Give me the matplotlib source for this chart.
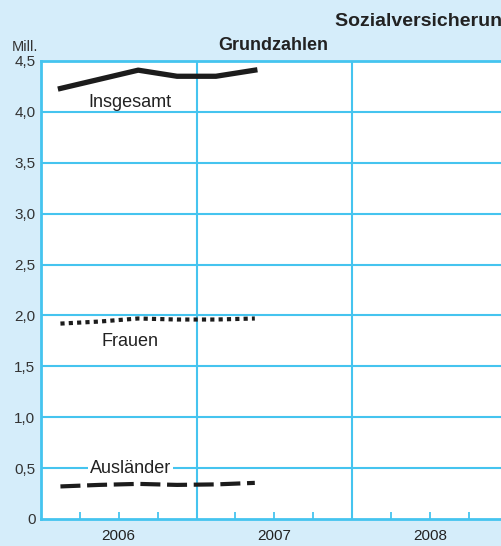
import matplotlib
matplotlib.use("Agg")
import matplotlib.pyplot as plt
import matplotlib.transforms as mtransforms

plt.rcParams['font.family'] = ['Liberation Sans', 'DejaVu Sans']

# quarters Q1 2006 .. Q2 2007 (quarter midpoints)
quarters = [2006.125, 2006.375, 2006.625, 2006.875, 2007.125, 2007.375]
insgesamt = [4.23, 4.32, 4.41, 4.35, 4.35, 4.41]
frauen = [1.92, 1.94, 1.97, 1.96, 1.96, 1.97]
auslaender = [0.32, 0.335, 0.345, 0.335, 0.34, 0.355]

years = [2006, 2007, 2008]
y_ticks = [0, 0.5, 1.0, 1.5, 2.0, 2.5, 3.0, 3.5, 4.0, 4.5]
y_labels = ['0', '0,5', '1,0', '1,5', '2,0', '2,5', '3,0', '3,5', '4,0', '4,5']

bg = '#d5edfa'
grid = '#45c4ef'
ink = '#1c1c1c'

fig = plt.figure(figsize=(5.02, 5.46), dpi=100, facecolor=bg)
ax = fig.add_axes([41 / 502, 27 / 546, 466.5 / 502, 458 / 546])
ax.set_facecolor('white')

ax.set_xlim(2006, 2009)
ax.set_ylim(0, 4.5)

# grid
for y in y_ticks[1:]:
    ax.axhline(y, color=grid, lw=1.5, zorder=1)
for yr in [2007, 2008]:
    ax.axvline(yr, color=grid, lw=1.5, zorder=1)

for s in ['left', 'bottom', 'top']:
    ax.spines[s].set_color(grid)
    ax.spines[s].set_linewidth(2)
ax.spines['right'].set_visible(False)

# quarter ticks inside
qt = [y + q for y in years for q in (0.25, 0.5, 0.75)]
ax.set_xticks(qt)
ax.set_xticklabels([])
ax.tick_params(axis='x', which='major', direction='in', length=5, width=1.3,
               color=grid)

# year labels under the centre of each year
trans = mtransforms.blended_transform_factory(ax.transData, fig.transFigure)
for yr in years:
    ax.text(yr + 0.5, 1 - 536 / 546, str(yr), transform=trans, fontsize=11,
            color='#222222', ha='center', va='center', clip_on=False)

ax.set_yticks(y_ticks)
ax.set_yticklabels(y_labels, fontsize=11, color='#333333')
ax.tick_params(axis='y', length=0, pad=4)

# series
ax.plot(quarters, insgesamt, color=ink, lw=3.8, solid_joinstyle='round',
        zorder=3)
ax.plot(quarters, frauen, color=ink, lw=3.0, linestyle=(0, (1, 1)),
        dash_capstyle='butt', zorder=3)
ax.plot(quarters, auslaender, color=ink, lw=3.0, linestyle=(0, (4.8, 1.6)),
        dash_capstyle='butt', zorder=3)

ax.text(2006.575, 4.09, 'Insgesamt', fontsize=13, color='#222222',
        ha='center', va='center', zorder=4)
ax.text(2006.575, 1.745, 'Frauen', fontsize=13, color='#222222',
        ha='center', va='center', zorder=4)
ax.text(2006.575, 0.495, 'Ausländer', fontsize=13, color='#222222',
        ha='center', va='center', zorder=4,
        bbox=dict(facecolor='white', edgecolor='none', pad=1.5))

fig.text(12 / 502, 1 - 47 / 546, 'Mill.', fontsize=10.5, color='#333333',
         ha='left', va='center')
fig.text(273 / 502, 1 - 45 / 546, 'Grundzahlen', fontsize=13,
         fontweight='bold', color='#222222', ha='center', va='center')
# title runs past the right edge, as in the source
fig.text(335 / 502, 1 - 21 / 546, 'Sozialversicherungspflichtig Beschäftigte',
         fontsize=14, fontweight='bold', color='#222222', ha='left',
         va='center')

fig.savefig('out.png', dpi=100, facecolor=bg)
